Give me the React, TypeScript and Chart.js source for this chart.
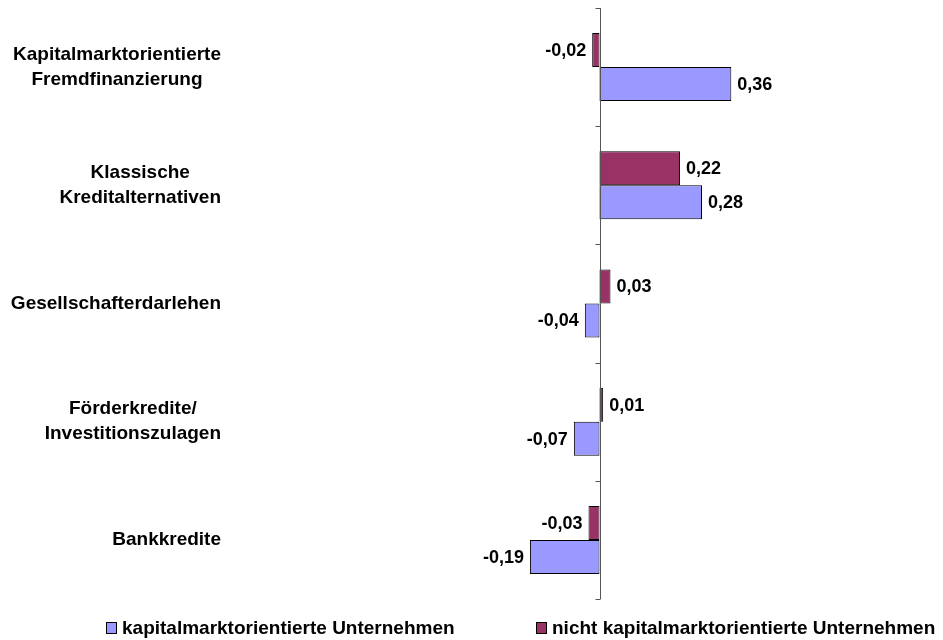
import React, { useEffect, useRef } from "react";
import { Chart, registerables } from "chart.js";

Chart.register(...registerables);

const categories: string[][] = [
  ["Kapitalmarktorientierte", "Fremdfinanzierung"],
  ["Klassische", "Kreditalternativen"],
  ["Gesellschafterdarlehen"],
  ["Förderkredite/", "Investitionszulagen"],
  ["Bankkredite"],
];
const seriesNames = [
  "kapitalmarktorientierte Unternehmen",
  "nicht kapitalmarktorientierte Unternehmen",
];
const kapitalmarkt = [0.36, 0.28, -0.04, -0.07, -0.19];
const nichtKapitalmarkt = [-0.02, 0.22, 0.03, 0.01, -0.03];
const colorKap = "#9999FF";
const colorNicht = "#993366";

const FONT = '"Liberation Sans", Arial, sans-serif';

const fmt = (v: number) => v.toFixed(2).replace(".", ",");

const overlayPlugin = {
  id: "overlay",
  afterDatasetsDraw(chart: any) {
    const ctx = chart.ctx as CanvasRenderingContext2D;
    const area = chart.chartArea;
    const xs = chart.scales.x;
    const ys = chart.scales.y;
    const zero = Math.round(xs.getPixelForValue(0)) + 0.5;
    ctx.save();
    // axis line
    ctx.strokeStyle = "#555555";
    ctx.lineWidth = 1;
    ctx.beginPath();
    ctx.moveTo(zero, area.top);
    ctx.lineTo(zero, area.bottom);
    const n = categories.length;
    const band = (area.bottom - area.top) / n;
    for (let i = 0; i <= n; i++) {
      const y = Math.round(area.top + band * i) + 0.5;
      ctx.moveTo(zero - 5, y);
      ctx.lineTo(zero, y);
    }
    ctx.stroke();

    // data labels
    ctx.fillStyle = "#000";
    ctx.font = `bold 18px ${FONT}`;
    ctx.textBaseline = "middle";
    chart.data.datasets.forEach((ds: any, di: number) => {
      const meta = chart.getDatasetMeta(di);
      meta.data.forEach((bar: any, i: number) => {
        const v = ds.data[i] as number;
        const y = bar.y + 1;
        if (v >= 0) {
          ctx.textAlign = "left";
          ctx.fillText(fmt(v), bar.x + 6, y);
        } else {
          ctx.textAlign = "right";
          ctx.fillText(fmt(v), bar.x - 6, y);
        }
      });
    });

    // category labels
    ctx.font = `bold 19px ${FONT}`;
    ctx.textAlign = "center";
    const right = 221;
    const lh = 25;
    categories.forEach((lines, i) => {
      const cy = ys.getPixelForValue(i);
      const w = Math.max(...lines.map((l) => ctx.measureText(l).width));
      const cx = right - w / 2;
      const startY = cy - ((lines.length - 1) * lh) / 2;
      lines.forEach((l, k) => ctx.fillText(l, cx, startY + k * lh));
    });

    // legend
    const legendY = 628;
    const items = [
      { x: 106, color: colorKap, label: seriesNames[0] },
      { x: 536, color: colorNicht, label: seriesNames[1] },
    ];
    ctx.textAlign = "left";
    items.forEach((it) => {
      ctx.fillStyle = it.color;
      ctx.fillRect(it.x, legendY - 6, 11, 12);
      ctx.strokeStyle = "#000";
      ctx.strokeRect(it.x + 0.5, legendY - 5.5, 10, 11);
      ctx.fillStyle = "#000";
      ctx.fillText(it.label, it.x + 16, legendY + 1);
    });
    ctx.restore();
  },
};

export default function App() {
  const ref = useRef<HTMLCanvasElement | null>(null);
  useEffect(() => {
    if (!ref.current) return;
    const chart = new Chart(ref.current, {
      type: "bar",
      data: {
        labels: categories.map((c) => c.join(" ")),
        datasets: [
          {
            label: seriesNames[1],
            data: nichtKapitalmarkt,
            backgroundColor: colorNicht,
            borderColor: "#000000",
            borderWidth: 1,
            borderSkipped: false,
            categoryPercentage: 0.575,
            barPercentage: 1,
          },
          {
            label: seriesNames[0],
            data: kapitalmarkt,
            backgroundColor: colorKap,
            borderColor: "#000000",
            borderWidth: 1,
            borderSkipped: false,
            categoryPercentage: 0.575,
            barPercentage: 1,
          },
        ],
      },
      options: {
        indexAxis: "y",
        responsive: false,
        animation: false,
        layout: { padding: { left: 270, right: 14, top: 8, bottom: 41 } },
        plugins: {
          legend: { display: false },
          tooltip: { enabled: false },
        },
        scales: {
          x: { display: false, min: -0.9, max: 0.9 },
          y: { display: false, offset: true, grid: { offset: true } },
        },
      },
      plugins: [overlayPlugin],
    } as any);
    return () => chart.destroy();
  }, []);
  return (
    <div style={{ position: "absolute", left: 0, top: 0, width: 943, height: 640, background: "#fff" }}>
      <canvas ref={ref} width={943} height={640} />
    </div>
  );
}
